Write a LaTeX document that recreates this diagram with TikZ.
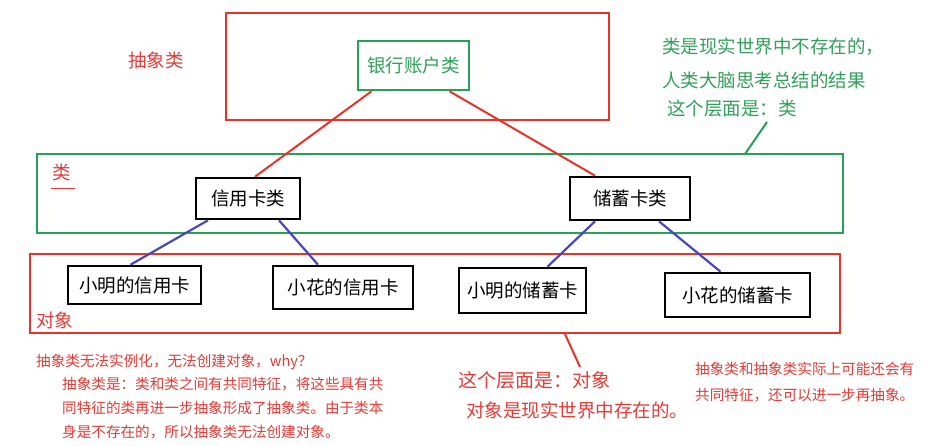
\documentclass[tikz,border=0pt]{standalone}
\usepackage{fontspec}
\setmainfont{Noto Sans CJK SC}
\definecolor{myred}{RGB}{232,52,40}
\definecolor{txtred}{RGB}{225,60,55}
\definecolor{mygreen}{RGB}{40,160,85}
\definecolor{txtgreen}{RGB}{50,160,90}
\definecolor{myblue}{RGB}{72,72,190}
\begin{document}
\begin{tikzpicture}[x=1pt,y=-1pt,
  layer/.style={draw,line width=2.5pt},
  card/.style={draw=black,line width=2.6pt,fill=white,inner sep=0pt,font=\fontsize{18.5}{20}\selectfont},
  lbl/.style={inner sep=0pt,anchor=west},
  big/.style={font=\fontsize{18.5}{20}\selectfont},
  small/.style={font=\fontsize{14.6}{16}\selectfont},
  redlink/.style={myred,line width=2pt},
  bluelink/.style={myblue,line width=2.2pt}]
\useasboundingbox (0,0) rectangle (940,446);
\fill[white] (0,0) rectangle (940,446);
% layers
\draw[layer,myred] (226,13) rectangle (609,120);
\draw[layer,mygreen] (37,154) rectangle (843,233);
\draw[layer,myred] (30,254) rectangle (840,333);
% nodes
\node[draw=mygreen,line width=2.6pt,fill=white,inner sep=0pt,minimum width=111pt,minimum height=49pt,text=txtgreen,font=\fontsize{18.5}{20}\selectfont] (bank) at (413.5,65.5) {银行账户类};
\node[card,minimum width=104pt,minimum height=41pt] (credit) at (248,198.5) {信用卡类};
\node[card,minimum width=120pt,minimum height=43pt] (debit) at (630,198.5) {储蓄卡类};
\node[card,minimum width=133pt,minimum height=38pt] (c1) at (134.5,285) {小明的信用卡};
\node[card,minimum width=140pt,minimum height=43pt] (c2) at (343,287.5) {小花的信用卡};
\node[card,minimum width=127pt,minimum height=45pt] (d1) at (522.5,290.5) {小明的储蓄卡};
\node[card,minimum width=145pt,minimum height=44pt] (d2) at (737.5,295) {小花的储蓄卡};
% links
\draw[redlink] ([xshift=-42pt]bank.south) -- ([xshift=7pt]credit.north);
\draw[redlink] ([xshift=36pt]bank.south) -- ([xshift=-35pt]debit.north);
\draw[bluelink] ([xshift=-40pt]credit.south) -- ([xshift=-4pt]c1.north);
\draw[bluelink] ([xshift=31pt]credit.south) -- ([xshift=-25pt]c2.north);
\draw[bluelink] ([xshift=-35pt]debit.south) -- ([xshift=25pt]d1.north);
\draw[bluelink] ([xshift=29pt]debit.south) -- ([xshift=-17pt]d2.north);
% layer labels
\node[lbl,big,text=txtred] (labs) at (128,60) {抽象类};
\node[lbl,big,text=txtred] (lcls) at (52,172) {类};
\draw[txtred,line width=0.8pt] (51,188) -- (75,188);
\node[lbl,big,text=txtred] (lobj) at (36,320) {对象};
% green note
\node[lbl,big,text=txtgreen] (g1) at (662,47) {类是现实世界中不存在的，};
\node[lbl,big,text=txtgreen] (g2) at (662,80) {人类大脑思考总结的结果};
\node[lbl,big,text=txtgreen] (g3) at (667,109) {这个层面是：类};
\coordinate (gA) at (767,122);
\coordinate (gB) at (745,154);
\draw[mygreen,line width=2pt] (gA) -- (gB);
% bottom notes
\node[lbl,small,text=txtred] (n1) at (36,362) {抽象类无法实例化，无法创建对象，why？};
\node[lbl,small,text=txtred] (n2) at (62,384) {抽象类是：类和类之间有共同特征，将这些具有共};
\node[lbl,small,text=txtred] (n3) at (62,408) {同特征的类再进一步抽象形成了抽象类。由于类本};
\node[lbl,small,text=txtred] (n4) at (62,432) {身是不存在的，所以抽象类无法创建对象。};
\node[lbl,font=\fontsize{19}{20}\selectfont,text=txtred] (o1) at (458,380) {这个层面是：对象};
\node[lbl,big,text=txtred] (o2) at (466,410) {对象是现实世界中存在的。};
\coordinate (rA) at (565,334);
\coordinate (rB) at (580,367);
\draw[myred,line width=2pt] (rA) -- (rB);
\node[lbl,small,text=txtred] (r1) at (695,369) {抽象类和抽象类实际上可能还会有};
\node[lbl,small,text=txtred] (r2) at (695,395) {共同特征，还可以进一步再抽象。};
\end{tikzpicture}
\end{document}
